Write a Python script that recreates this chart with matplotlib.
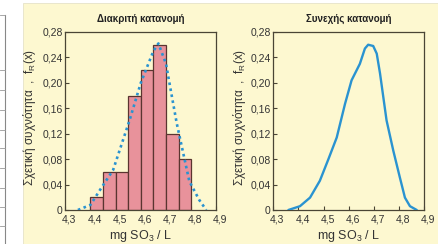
import matplotlib
matplotlib.use("Agg")
import matplotlib.pyplot as plt
import matplotlib.transforms as mtransforms
from matplotlib.patches import Rectangle
from matplotlib.lines import Line2D

plt.rcParams['font.family'] = ['Liberation Sans', 'DejaVu Sans']
plt.rcParams['mathtext.fontset'] = 'custom'
plt.rcParams['mathtext.rm'] = 'Liberation Sans'

# histogram classes (left edge) and relative frequency
bin_left = [4.40, 4.45, 4.50, 4.55, 4.60, 4.65, 4.70, 4.75]
bin_freq = [0.02, 0.06, 0.06, 0.18, 0.22, 0.26, 0.12, 0.08]
bin_width = 0.05

# dotted envelope on the histogram
dot_x = [4.35, 4.40, 4.437, 4.49, 4.556, 4.60, 4.65, 4.67, 4.70, 4.743, 4.793, 4.832, 4.86]
dot_y = [0.0, 0.008, 0.031, 0.063, 0.142, 0.20, 0.25, 0.262, 0.23, 0.136, 0.045, 0.016, 0.0]

# continuous distribution
cur_x = [4.36, 4.406, 4.446, 4.485, 4.519, 4.552, 4.585, 4.611, 4.644, 4.664, 4.677,
         4.697, 4.711, 4.724, 4.75, 4.777, 4.803, 4.823, 4.843, 4.87]
cur_y = [0.0, 0.006, 0.0195, 0.046, 0.080, 0.114, 0.167, 0.204, 0.230, 0.254, 0.260,
         0.258, 0.246, 0.215, 0.141, 0.093, 0.051, 0.0195, 0.006, 0.0]

x_ticks = [4.3, 4.4, 4.5, 4.6, 4.7, 4.8, 4.9]
x_labels = ['4,3', '4,4', '4,5', '4,6', '4,7', '4,8', '4,9']
y_ticks = [0, 0.04, 0.08, 0.12, 0.16, 0.20, 0.24, 0.28]
y_labels = ['0', '0,04', '0,08', '0,12', '0,16', '0,20', '0,24', '0,28']

bg = '#fdf8d0'
spine_col = '#4a4535'
blue = '#2a93d0'

W, H = 439, 244
fig = plt.figure(figsize=(W / 100, H / 100), dpi=100)
fig.patch.set_facecolor('white')

# yellow panel and left page fragment
panel = Rectangle((23 / W, 0), 1, (H - 3) / H, transform=fig.transFigure,
                  facecolor=bg, edgecolor='#e6e2c8', lw=0.6, zorder=-10)
fig.add_artist(panel)
fig.add_artist(Line2D([5 / W, 5 / W], [0, 1 - 15 / H], color='#888888', lw=0.8))
for yy in [15, 70, 90, 110, 130, 148, 168, 188, 207, 226]:
    fig.add_artist(Line2D([0, 5 / W], [1 - yy / H, 1 - yy / H], color='#999999', lw=0.6))

ax_w = 151 / W
ax_h = 178 / H
ax_b = (H - 210) / H
ax1 = fig.add_axes([65.3 / W, ax_b, ax_w, ax_h])
ax2 = fig.add_axes([273.3 / W, ax_b, ax_w, ax_h])

ax1.bar(bin_left, bin_freq, width=bin_width, align='edge', color='#e8929b',
        edgecolor='#5a3530', linewidth=0.9, zorder=2)
ax1.plot(dot_x, dot_y, color=blue, lw=1.9, ls=(0, (1, 1.3)), zorder=3)
ax2.plot(cur_x, cur_y, color=blue, lw=1.7, zorder=3, solid_capstyle='round',
         solid_joinstyle='round')

# x tick labels sit a little right of their ticks in the original
shift = mtransforms.ScaledTranslation(4 / 100, 0, fig.dpi_scale_trans)

titles = ['Διακριτή κατανομή', 'Συνεχής κατανομή']
for ax, title, lx in [(ax1, titles[0], -0.18), (ax2, titles[1], -0.165)]:
    ax.set_facecolor(bg)
    ax.set_xlim(4.3, 4.9)
    ax.set_ylim(0, 0.28)
    ax.set_xticks(x_ticks)
    ax.set_xticklabels(x_labels)
    ax.set_yticks(y_ticks)
    ax.set_yticklabels(y_labels)
    ax.tick_params(axis='x', direction='in', length=3, labelsize=7.5, pad=3.5,
                   color=spine_col, labelcolor='#333333')
    ax.tick_params(axis='y', direction='in', length=3, labelsize=7.5, pad=2,
                   color=spine_col, labelcolor='#333333')
    for lbl in ax.get_xticklabels():
        lbl.set_transform(lbl.get_transform() + shift)
    for s in ax.spines.values():
        s.set_color(spine_col)
        s.set_linewidth(0.9)
    ax.set_title(title, fontsize=7, fontweight='bold', pad=7, color='#222222')
    ax.set_xlabel(r'mg SO$_3$ / L', fontsize=9, labelpad=2, color='#333333')
    ax.set_ylabel(r'Σχετική συχνότητα  ,  $\mathrm{f_R(x)}$', fontsize=8.5, color='#333333')
    ax.yaxis.set_label_coords(lx, 0.52)

fig.savefig('out.png', dpi=100, facecolor=fig.get_facecolor())
